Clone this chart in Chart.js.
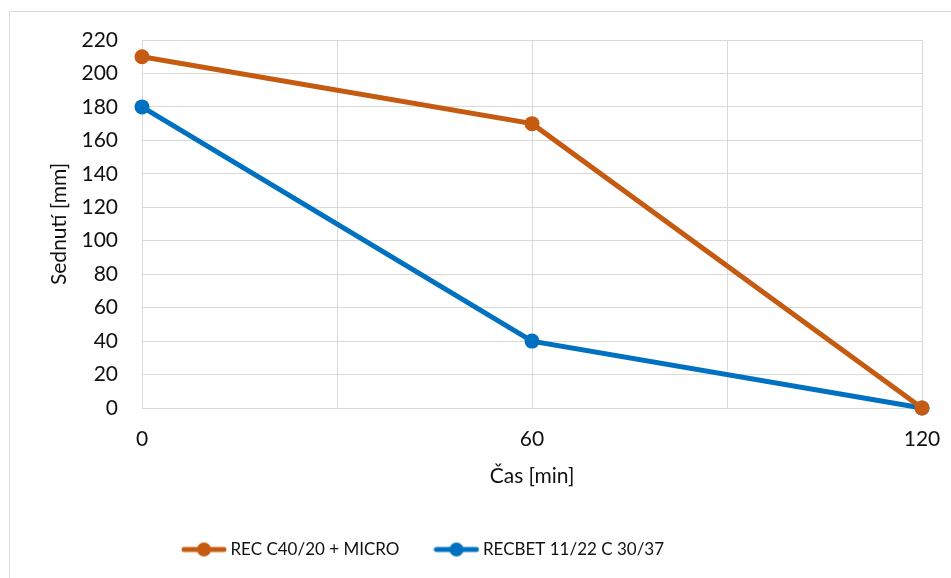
<!DOCTYPE html>
<html>
<head>
<meta charset="utf-8">
<script src="https://cdn.jsdelivr.net/npm/chart.js@4"></script>
<style>
  html, body { margin: 0; padding: 0; background: #fff; }
  #wrap { width: 951px; height: 578px; position: relative; }
</style>
</head>
<body>
<div id="wrap"><canvas id="c" width="951" height="578"></canvas></div>
<script>
const timeMin = [0, 60, 120];
const recMicro = [210, 170, 0];
const recbet = [180, 40, 0];
const seriesNames = ['REC C40/20 + MICRO', 'RECBET 11/22 C 30/37'];
const seriesColors = ['#C55A11', '#0070C0'];
const xTitle = 'Čas [min]';
const yTitle = 'Sednutí [mm]';

function toPoints(ys) { return timeMin.map((t, i) => ({ x: t, y: ys[i] })); }

function legendMarker(color) {
  const cv = document.createElement('canvas');
  cv.width = 46; cv.height = 16;
  const g = cv.getContext('2d');
  g.strokeStyle = color; g.lineWidth = 5; g.lineCap = 'round';
  g.beginPath(); g.moveTo(3, 8); g.lineTo(43, 8); g.stroke();
  g.fillStyle = color;
  g.beginPath(); g.arc(23, 8, 7, 0, Math.PI * 2); g.fill();
  return cv;
}

const bgBorder = {
  id: 'bgBorder',
  beforeDraw(chart) {
    const ctx = chart.ctx;
    ctx.save();
    ctx.fillStyle = '#fff';
    ctx.fillRect(0, 0, chart.width, chart.height);
    ctx.strokeStyle = '#d9d9d9';
    ctx.lineWidth = 1;
    ctx.strokeRect(9.5, 11.5, 1000, 700);
    ctx.restore();
  }
};

// shift the legend box a little to the left, as in the original
const legendShift = {
  id: 'legendShift',
  afterLayout(chart) {
    const lg = chart.legend;
    if (!lg) return;
    const dx = -36;
    lg.left += dx; lg.right += dx;
    (lg.legendHitBoxes || []).forEach(b => { b.left += dx; });
  }
};

const font = 'Lato, "Open Sans", sans-serif';

new Chart(document.getElementById('c'), {
  type: 'line',
  data: {
    datasets: [recMicro, recbet].map((ys, i) => ({
      label: seriesNames[i],
      data: toPoints(ys),
      borderColor: seriesColors[i],
      backgroundColor: seriesColors[i],
      borderWidth: 5,
      pointRadius: 7.5,
      pointHoverRadius: 7.5,
      pointBorderWidth: 0,
      pointStyle: 'circle',
      tension: 0,
      fill: false,
      clip: false
    }))
  },
  options: {
    responsive: false,
    animation: false,
    layout: { padding: { top: 40, right: 29, bottom: 10, left: 0 } },
    plugins: {
      tooltip: { enabled: false },
      legend: {
        position: 'bottom',
        labels: {
          font: { family: font, size: 17 },
          color: '#111',
          usePointStyle: true,
          pointStyleWidth: 36,
          boxHeight: 16,
          padding: 39,
          generateLabels(chart) {
            return chart.data.datasets.map((d, i) => ({
              text: d.label,
              pointStyle: legendMarker(seriesColors[i]),
              fillStyle: seriesColors[i],
              strokeStyle: seriesColors[i],
              lineWidth: 0,
              hidden: false,
              datasetIndex: i,
              fontColor: '#111'
            }));
          }
        }
      }
    },
    scales: {
      x: {
        type: 'linear',
        min: 0, max: 120,
        afterFit(s) { s.height = 94; s.paddingLeft = 0; s.paddingRight = 0; },
        ticks: {
          stepSize: 30,
          padding: 19,
          maxRotation: 0,
          autoSkip: false,
          font: { family: font, size: 21 },
          color: '#111',
          callback: v => (v % 60 === 0 ? String(v) : '')
        },
        grid: { color: '#d9d9d9', lineWidth: 1, drawTicks: false },
        border: { color: '#d9d9d9' },
        title: {
          display: true, text: xTitle,
          font: { family: font, size: 21 }, color: '#111',
          padding: { top: 0, bottom: 13 }
        }
      },
      y: {
        min: 0, max: 220,
        afterFit(s) { s.width = 142; },
        ticks: {
          stepSize: 20,
          padding: 24,
          font: { family: font, size: 21 },
          color: '#111'
        },
        grid: { color: '#d9d9d9', lineWidth: 1, drawTicks: false },
        border: { color: '#d9d9d9' },
        title: {
          display: true, text: yTitle,
          font: { family: font, size: 21 }, color: '#111',
          padding: { top: 47, bottom: 0 }
        }
      }
    }
  },
  plugins: [bgBorder, legendShift]
});
</script>
</body>
</html>
